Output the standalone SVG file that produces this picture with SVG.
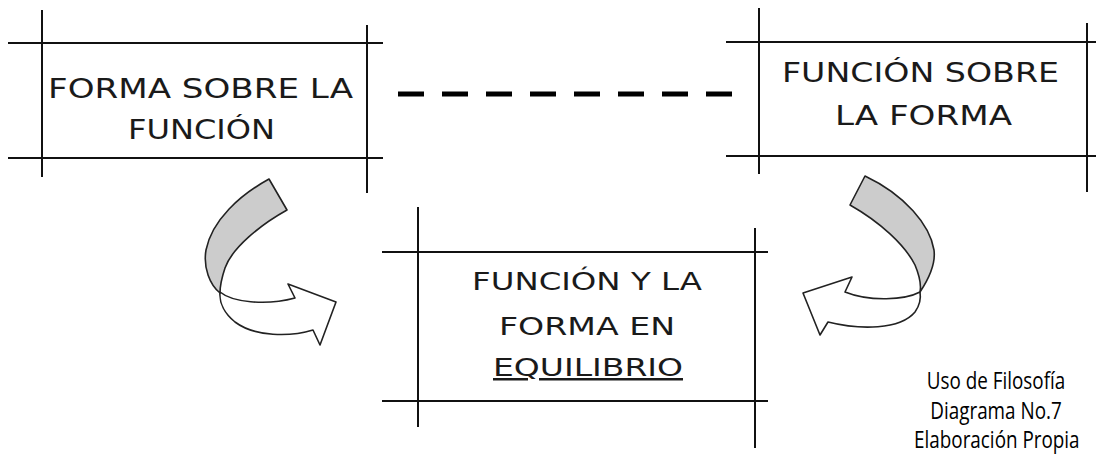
<svg xmlns="http://www.w3.org/2000/svg" width="1096" height="465" viewBox="0 0 1096 465">
<style>
.frame{stroke:#111;stroke-width:2;fill:none}
.lbl{font-family:"DejaVu Sans","Liberation Sans",sans-serif;fill:#1a1a1a;font-size:27px}
.lbl2{font-family:"DejaVu Sans","Liberation Sans",sans-serif;fill:#1a1a1a;font-size:25px}
.note{font-family:"Open Sans","Noto Sans",sans-serif;fill:#000;font-size:23px;text-anchor:middle}
.band{stroke:#222;stroke-width:1.6;stroke-linejoin:round}
</style>
<rect width="1096" height="465" fill="#fff"/>
<g id="node-forma-sobre-funcion">
<path class="frame" d="M8,43H383M8,158H383M42,10V177M367,25V193"/>
<text class="lbl" x="48" y="98" textLength="305" lengthAdjust="spacingAndGlyphs">FORMA SOBRE LA</text>
<text class="lbl" x="128" y="139" textLength="147" lengthAdjust="spacingAndGlyphs">FUNCIÓN</text>
</g>
<g id="node-funcion-sobre-forma">
<path class="frame" d="M726,42H1096M726,156H1096M759,8V174M1087,23V192"/>
<text class="lbl" x="782" y="82" textLength="277" lengthAdjust="spacingAndGlyphs">FUNCIÓN SOBRE</text>
<text class="lbl" x="835" y="125" textLength="177" lengthAdjust="spacingAndGlyphs">LA FORMA</text>
</g>
<g id="node-equilibrio">
<path class="frame" d="M382,252H768M382,401H768M418,207V427M755,228V448"/>
<text class="lbl2" x="472" y="290" textLength="230" lengthAdjust="spacingAndGlyphs">FUNCIÓN Y LA</text>
<text class="lbl2" x="499" y="335" textLength="176" lengthAdjust="spacingAndGlyphs">FORMA EN</text>
<text class="lbl2" x="493" y="376" textLength="190" lengthAdjust="spacingAndGlyphs" text-decoration="underline">EQUILIBRIO</text>
</g>
<g id="connectors">
<line x1="398" y1="94" x2="733" y2="94" stroke="#000" stroke-width="5" stroke-dasharray="26 18"/>
<g id="arrow-left">
<path class="band" fill="#fff" d="M220,292 C232,302 265,306 295,298 L288,284 L336,302 L320,345 L313,330 C290,337 255,337 235,322 C225,314 219,303 220,292 Z"/>
<path class="band" fill="#cccccc" d="M269,179 L287,210 C260,225 232,248 225,268 C221,280 220,288 220,293 C210,285 203,268 206,250 C212,220 240,195 269,179 Z"/>
</g>
<g id="arrow-right">
<path class="band" fill="#fff" d="M920,292 C905,300 870,302 845,292 L852,277 L803,293 L820,335 L828,322 C860,330 900,330 915,312 C920,305 921,298 920,292 Z"/>
<path class="band" fill="#cccccc" d="M865,176 L850,205 C880,222 905,245 915,265 C920,277 921,287 920,292 C928,280 936,265 934,250 C930,225 905,195 865,176 Z"/>
</g>
</g>
<g id="caption" transform="translate(996,0) scale(0.82,1)">
<text class="note" x="0" y="389">Uso de Filosofía</text>
<text class="note" x="0" y="419">Diagrama No.7</text>
<text class="note" x="1" y="448">Elaboración Propia</text>
</g>
</svg>
